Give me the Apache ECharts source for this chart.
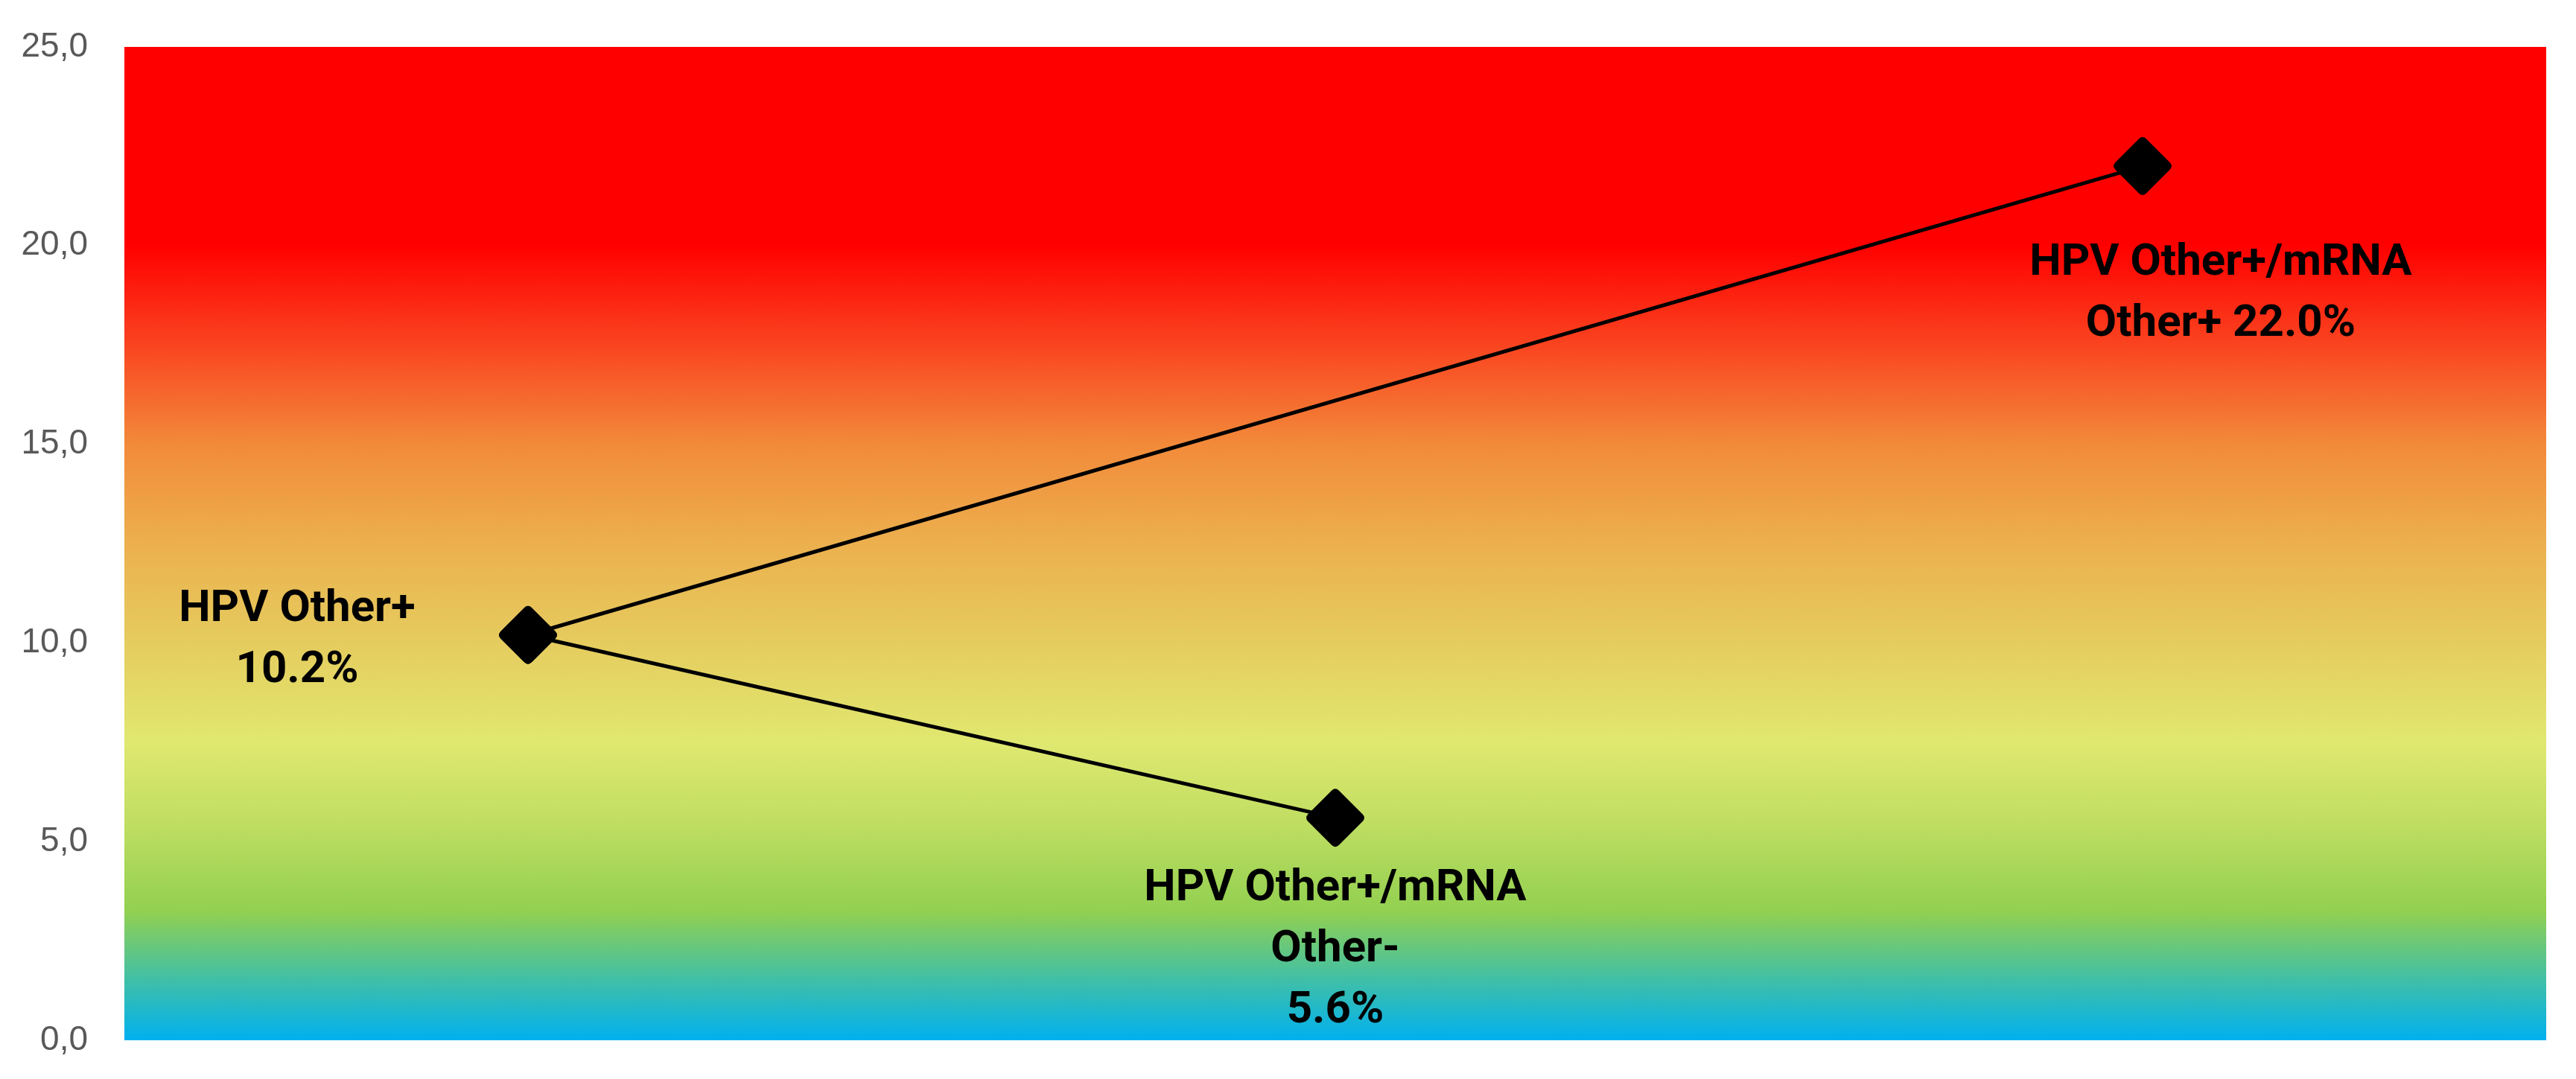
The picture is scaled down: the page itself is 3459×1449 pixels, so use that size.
<!DOCTYPE html>
<html>
<head>
<meta charset="utf-8">
<title>HPV Other</title>
<script src="https://cdn.jsdelivr.net/npm/echarts@6/dist/echarts.min.js"></script>
<style>
	html, body { margin: 0; padding: 0; background: #fff; }
	#chart { width: 3459px; height: 1449px; }
</style>
</head>
<body>
<div id="chart"></div>
<script>
// categories along x (hidden axis)
var categories = ['HPV Other+', 'HPV Other+/mRNA Other-', 'HPV Other+/mRNA Other+'];
// two branches starting from the same point
var branchNegative = [10.2, 5.6, null];
var branchPositive = [10.2, null, 22.0];
var pointLabels = ['HPV Other+\n10.2%', 'HPV Other+/mRNA\nOther-\n5.6%', 'HPV Other+/mRNA\nOther+ 22.0%'];
var yTicks = [0, 5, 10, 15, 20, 25];

// rounded diamond marker
var diamond = 'path://M44,6 Q50,0 56,6 L94,44 Q100,50 94,56 L56,94 Q50,100 44,94 L6,56 Q0,50 6,44 Z';

function pointLabel(text, offset) {
	return {
		show: true,
		position: 'inside',
		offset: offset,
		formatter: text,
		fontFamily: 'Roboto',
		fontSize: 60,
		fontWeight: 'bold',
		lineHeight: 82,
		color: '#000',
		align: 'center',
		verticalAlign: 'middle'
	};
}

function toData(values, offsets) {
	return values.map(function (v, i) {
		if (v === null) return '-';
		if (!offsets[i]) return { value: v, label: { show: false } };
		return { value: v, label: pointLabel(pointLabels[i], offsets[i]) };
	});
}

var chart = echarts.init(document.getElementById('chart'));

chart.setOption({
	animation: false,
	grid: {
		left: 167,
		right: 40,
		top: 63,
		bottom: 52,
		show: true,
		borderWidth: 0,
		backgroundColor: new echarts.graphic.LinearGradient(0, 0, 0, 1, [
			{ offset: 0, color: '#ff0000' },
			{ offset: 0.2, color: '#ff0000' },
			{ offset: 0.3, color: '#fa4420' },
			{ offset: 0.4, color: '#f28a3a' },
			{ offset: 0.5, color: '#ecb04e' },
			{ offset: 0.6, color: '#e5cc5e' },
			{ offset: 0.7, color: '#e0e870' },
			{ offset: 0.78, color: '#c0de62' },
			{ offset: 0.87, color: '#92d050' },
			{ offset: 0.94, color: '#3fbfa8' },
			{ offset: 1, color: '#00b0f0' }
		])
	},
	xAxis: {
		type: 'category',
		data: categories,
		boundaryGap: true,
		axisLine: { show: false },
		axisTick: { show: false },
		axisLabel: { show: false },
		splitLine: { show: false }
	},
	yAxis: {
		type: 'value',
		min: yTicks[0],
		max: yTicks[yTicks.length - 1],
		interval: 5,
		axisLine: { show: false },
		axisTick: { show: false },
		splitLine: { show: false },
		axisLabel: {
			margin: 49,
			fontFamily: 'Liberation Sans',
			fontSize: 46,
			color: '#595959',
			formatter: function (v) {
				return v.toFixed(1).replace('.', ',');
			}
		}
	},
	series: [
		{
			name: 'negative',
			type: 'line',
			connectNulls: true,
			symbol: diamond,
			symbolSize: 78,
			itemStyle: { color: '#000' },
			lineStyle: { color: '#000', width: 5 },
			data: toData(branchNegative, [[-310, 7], [0, 178], null])
		},
		{
			name: 'positive',
			type: 'line',
			connectNulls: true,
			symbol: diamond,
			symbolSize: 78,
			itemStyle: { color: '#000' },
			lineStyle: { color: '#000', width: 5 },
			data: toData(branchPositive, [null, null, [105, 172]])
		}
	]
});
</script>
</body>
</html>
